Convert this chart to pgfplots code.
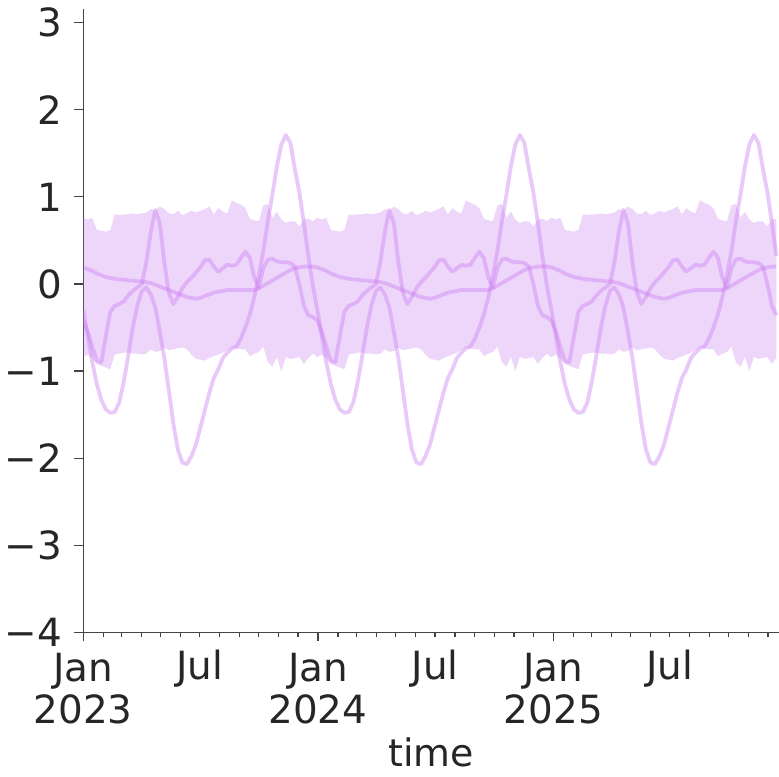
\documentclass[border=0pt]{standalone}
\usepackage{fontspec}
\setmainfont{DejaVu Sans}
\usepackage{pgfplots}
\usepackage{pgfplotstable}
\pgfplotsset{compat=1.18}
\usepgfplotslibrary{fillbetween}

\definecolor{txt}{HTML}{262626}
\definecolor{spine}{HTML}{444444}
\definecolor{lila}{RGB}{200,120,240}

% weekly values, one row per week from 2023-01-01 (d = days)
\pgfplotstableread{
d A B C up lo
0 -0.30 -0.42 0.19 0.76 -0.84
7 -0.60 -0.55 0.17 0.74 -0.81
14 -0.90 -0.72 0.15 0.76 -0.86
21 -1.15 -0.88 0.12 0.62 -0.92
28 -1.33 -0.90 0.10 0.61 -0.94
35 -1.44 -0.60 0.08 0.60 -0.96
42 -1.48 -0.32 0.07 0.62 -0.98
49 -1.47 -0.25 0.06 0.80 -0.81
56 -1.36 -0.23 0.05 0.79 -0.80
63 -1.12 -0.20 0.05 0.80 -0.79
70 -0.82 -0.13 0.04 0.80 -0.79
77 -0.50 -0.08 0.04 0.81 -0.80
84 -0.25 -0.04 0.03 0.80 -0.80
91 -0.08 0.00 0.03 0.81 -0.81
98 -0.04 0.25 0.02 0.82 -0.80
105 -0.12 0.60 0.01 0.86 -0.75
112 -0.27 0.85 -0.01 0.84 -0.78
119 -0.55 0.70 -0.03 0.89 -0.77
126 -0.85 0.25 -0.05 0.86 -0.73
133 -1.22 -0.10 -0.07 0.81 -0.76
140 -1.60 -0.23 -0.09 0.80 -0.75
147 -1.90 -0.15 -0.11 0.84 -0.74
154 -2.05 -0.05 -0.13 0.79 -0.73
161 -2.07 0.02 -0.15 0.81 -0.75
168 -1.98 0.07 -0.16 0.84 -0.81
175 -1.85 0.13 -0.17 0.82 -0.86
182 -1.65 0.19 -0.16 0.84 -0.87
189 -1.45 0.27 -0.14 0.86 -0.88
196 -1.25 0.28 -0.12 0.89 -0.85
203 -1.08 0.20 -0.10 0.80 -0.83
210 -0.98 0.14 -0.09 0.87 -0.81
217 -0.85 0.18 -0.08 0.83 -0.79
224 -0.79 0.22 -0.07 0.81 -0.76
231 -0.74 0.21 -0.07 0.96 -0.73
238 -0.72 0.22 -0.07 0.93 -0.74
245 -0.63 0.30 -0.07 0.91 -0.75
252 -0.50 0.37 -0.07 0.87 -0.75
259 -0.35 0.30 -0.07 0.75 -0.83
266 -0.15 0.07 -0.07 0.73 -0.80
273 0.10 -0.04 -0.05 0.72 -0.78
280 0.38 0.18 -0.02 0.90 -0.72
287 0.72 0.28 0.01 0.92 -0.90
294 1.02 0.29 0.04 0.76 -0.95
301 1.35 0.26 0.07 0.83 -0.84
308 1.60 0.25 0.10 0.74 -1.00
315 1.71 0.25 0.13 0.70 -0.84
322 1.62 0.24 0.16 0.72 -0.86
329 1.32 0.20 0.18 0.72 -0.85
336 1.05 0.00 0.19 0.66 -0.84
343 0.70 -0.25 0.20 0.74 -0.92
350 0.32 -0.36 0.20 0.75 -0.85
357 -0.02 -0.38 0.20 0.72 -0.80
364 -0.30 -0.42 0.19 0.76 -0.84
371 -0.60 -0.55 0.17 0.74 -0.81
378 -0.90 -0.72 0.15 0.76 -0.86
385 -1.15 -0.88 0.12 0.62 -0.92
392 -1.33 -0.90 0.10 0.61 -0.94
399 -1.44 -0.60 0.08 0.60 -0.96
406 -1.48 -0.32 0.07 0.62 -0.98
413 -1.47 -0.25 0.06 0.80 -0.81
420 -1.36 -0.23 0.05 0.79 -0.80
427 -1.12 -0.20 0.05 0.80 -0.79
434 -0.82 -0.13 0.04 0.80 -0.79
441 -0.50 -0.08 0.04 0.81 -0.80
448 -0.25 -0.04 0.03 0.80 -0.80
455 -0.08 0.00 0.03 0.81 -0.81
462 -0.04 0.25 0.02 0.82 -0.80
469 -0.12 0.60 0.01 0.86 -0.75
476 -0.27 0.85 -0.01 0.84 -0.78
483 -0.55 0.70 -0.03 0.89 -0.77
490 -0.85 0.25 -0.05 0.86 -0.73
497 -1.22 -0.10 -0.07 0.81 -0.76
504 -1.60 -0.23 -0.09 0.80 -0.75
511 -1.90 -0.15 -0.11 0.84 -0.74
518 -2.05 -0.05 -0.13 0.79 -0.73
525 -2.07 0.02 -0.15 0.81 -0.75
532 -1.98 0.07 -0.16 0.84 -0.81
539 -1.85 0.13 -0.17 0.82 -0.86
546 -1.65 0.19 -0.16 0.84 -0.87
553 -1.45 0.27 -0.14 0.86 -0.88
560 -1.25 0.28 -0.12 0.89 -0.85
567 -1.08 0.20 -0.10 0.80 -0.83
574 -0.98 0.14 -0.09 0.87 -0.81
581 -0.85 0.18 -0.08 0.83 -0.79
588 -0.79 0.22 -0.07 0.81 -0.76
595 -0.74 0.21 -0.07 0.96 -0.73
602 -0.72 0.22 -0.07 0.93 -0.74
609 -0.63 0.30 -0.07 0.91 -0.75
616 -0.50 0.37 -0.07 0.87 -0.75
623 -0.35 0.30 -0.07 0.75 -0.83
630 -0.15 0.07 -0.07 0.73 -0.80
637 0.10 -0.04 -0.05 0.72 -0.78
644 0.38 0.18 -0.02 0.90 -0.72
651 0.72 0.28 0.01 0.92 -0.90
658 1.02 0.29 0.04 0.76 -0.95
665 1.35 0.26 0.07 0.83 -0.84
672 1.60 0.25 0.10 0.74 -1.00
679 1.71 0.25 0.13 0.70 -0.84
686 1.62 0.24 0.16 0.72 -0.86
693 1.32 0.20 0.18 0.72 -0.85
700 1.05 0.00 0.19 0.66 -0.84
707 0.70 -0.25 0.20 0.74 -0.92
714 0.32 -0.36 0.20 0.75 -0.85
721 -0.02 -0.38 0.20 0.72 -0.80
728 -0.30 -0.42 0.19 0.76 -0.84
735 -0.60 -0.55 0.17 0.74 -0.81
742 -0.90 -0.72 0.15 0.76 -0.86
749 -1.15 -0.88 0.12 0.62 -0.92
756 -1.33 -0.90 0.10 0.61 -0.94
763 -1.44 -0.60 0.08 0.60 -0.96
770 -1.48 -0.32 0.07 0.62 -0.98
777 -1.47 -0.25 0.06 0.80 -0.81
784 -1.36 -0.23 0.05 0.79 -0.80
791 -1.12 -0.20 0.05 0.80 -0.79
798 -0.82 -0.13 0.04 0.80 -0.79
805 -0.50 -0.08 0.04 0.81 -0.80
812 -0.25 -0.04 0.03 0.80 -0.80
819 -0.08 0.00 0.03 0.81 -0.81
826 -0.04 0.25 0.02 0.82 -0.80
833 -0.12 0.60 0.01 0.86 -0.75
840 -0.27 0.85 -0.01 0.84 -0.78
847 -0.55 0.70 -0.03 0.89 -0.77
854 -0.85 0.25 -0.05 0.86 -0.73
861 -1.22 -0.10 -0.07 0.81 -0.76
868 -1.60 -0.23 -0.09 0.80 -0.75
875 -1.90 -0.15 -0.11 0.84 -0.74
882 -2.05 -0.05 -0.13 0.79 -0.73
889 -2.07 0.02 -0.15 0.81 -0.75
896 -1.98 0.07 -0.16 0.84 -0.81
903 -1.85 0.13 -0.17 0.82 -0.86
910 -1.65 0.19 -0.16 0.84 -0.87
917 -1.45 0.27 -0.14 0.86 -0.88
924 -1.25 0.28 -0.12 0.89 -0.85
931 -1.08 0.20 -0.10 0.80 -0.83
938 -0.98 0.14 -0.09 0.87 -0.81
945 -0.85 0.18 -0.08 0.83 -0.79
952 -0.79 0.22 -0.07 0.81 -0.76
959 -0.74 0.21 -0.07 0.96 -0.73
966 -0.72 0.22 -0.07 0.93 -0.74
973 -0.63 0.30 -0.07 0.91 -0.75
980 -0.50 0.37 -0.07 0.87 -0.75
987 -0.35 0.30 -0.07 0.75 -0.83
994 -0.15 0.07 -0.07 0.73 -0.80
1001 0.10 -0.04 -0.05 0.72 -0.78
1008 0.38 0.18 -0.02 0.90 -0.72
1015 0.72 0.28 0.01 0.92 -0.90
1022 1.02 0.29 0.04 0.76 -0.95
1029 1.35 0.26 0.07 0.83 -0.84
1036 1.60 0.25 0.10 0.74 -1.00
1043 1.71 0.25 0.13 0.70 -0.84
1050 1.62 0.24 0.16 0.72 -0.86
1057 1.32 0.20 0.18 0.72 -0.85
1064 1.05 0.00 0.19 0.66 -0.84
1071 0.70 -0.25 0.20 0.74 -0.92
1078 0.32 -0.36 0.20 0.75 -0.85
}\data

\begin{document}
\begin{tikzpicture}
\begin{axis}[
  name=ax,
  scale only axis,
  width=695.7bp, height=623bp,
  xmin=0, xmax=1082,
  ymin=-4, ymax=3.154,
  axis x line*=bottom, axis y line*=left,
  axis line style={-, draw=spine, line width=1.4bp},
  tick align=outside,
  tick style={draw=spine, line width=1.2bp},
  major tick length=9bp, minor tick length=5bp,
  ytick={-4,-3,-2,-1,0,1,2,3},
  yticklabels={−4,−3,−2,−1,0,1,2,3},
  xtick={0,365,731},
  xticklabels={Jan\\2023,Jan\\2024,Jan\\2025},
  extra x ticks={181,547,912},
  extra x tick labels={Jul,Jul,Jul},
  extra x tick style={major tick length=5bp},
  minor xtick={31,59,90,120,151,212,243,273,304,334,396,425,456,486,517,578,609,639,670,700,762,790,821,851,882,943,974,1004,1035,1065},
  every tick label/.append style={font=\fontsize{39}{42}\selectfont, text=txt},
  xticklabel style={align=center, anchor=north, inner sep=0pt, yshift=-12bp},
  yticklabel style={anchor=east, inner sep=0pt, xshift=-12bp},
  xlabel={time},
  xlabel style={font=\fontsize{38}{42}\selectfont, text=txt, at={(axis description cs:0.5,0)}, anchor=base, yshift=-134bp},
  clip=true,
]
\addplot[name path=up, draw=none] table[x=d, y=up] {\data};
\addplot[name path=lo, draw=none] table[x=d, y=lo] {\data};
\addplot[fill=lila, fill opacity=0.3, draw=none] fill between[of=up and lo];
\addplot[draw=lila, opacity=0.4, line width=3.8bp, line join=round] table[x=d, y=A] {\data};
\addplot[draw=lila, opacity=0.4, line width=3.8bp, line join=round] table[x=d, y=B] {\data};
\addplot[draw=lila, opacity=0.4, line width=3.8bp, line join=round] table[x=d, y=C] {\data};
\end{axis}
\pgfresetboundingbox
\path[use as bounding box] ([xshift=-83.3bp, yshift=-144.7bp]ax.south west) rectangle ([yshift=9.3bp]ax.north east);
\end{tikzpicture}
\end{document}
